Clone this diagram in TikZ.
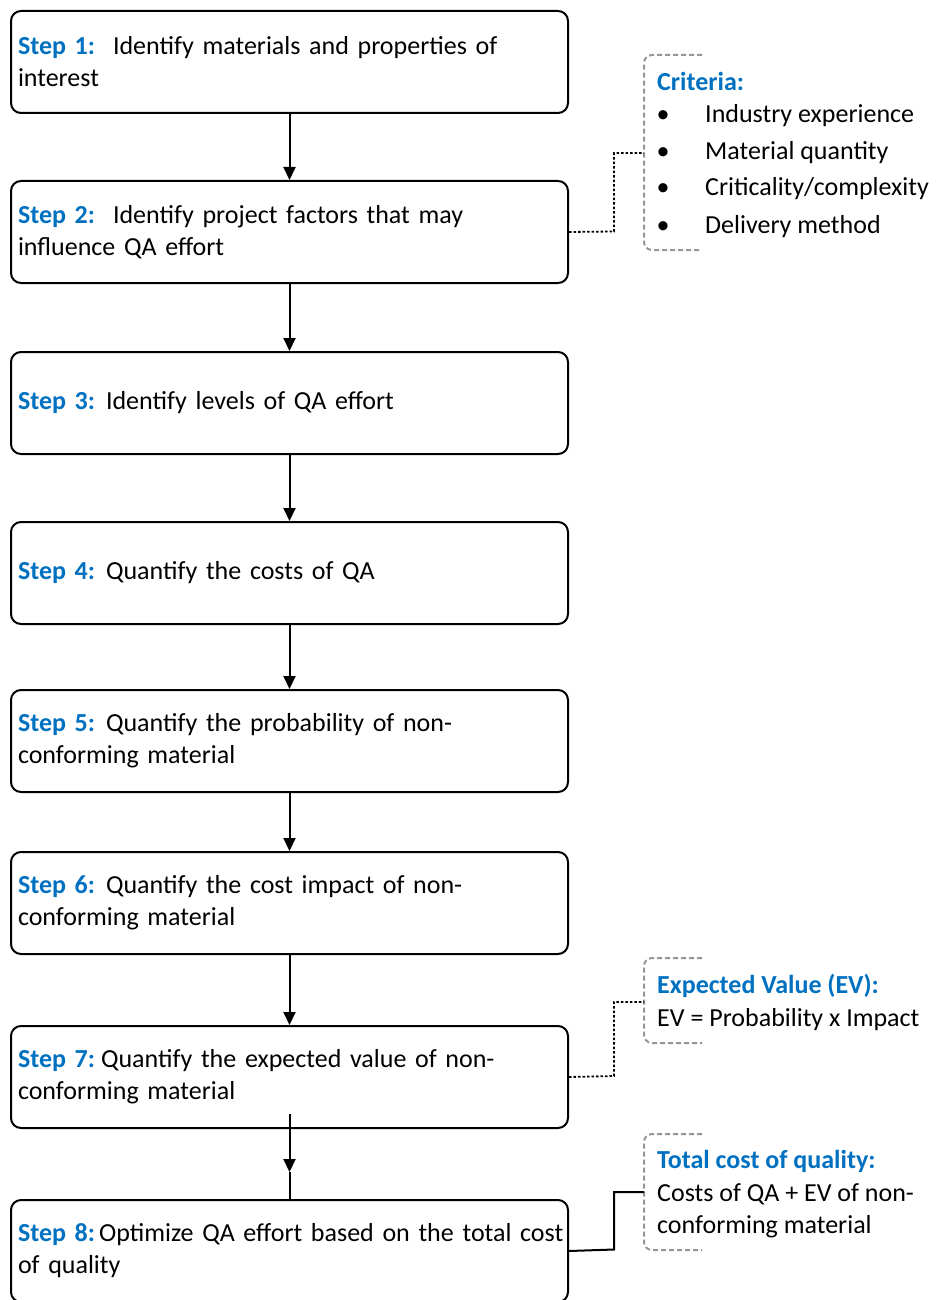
\documentclass[tikz,border=0pt]{standalone}
\usepackage{fontspec}
\setmainfont{Carlito}
\usetikzlibrary{arrows.meta}
\definecolor{stepblue}{RGB}{0,112,192}
\definecolor{bracketgray}{RGB}{150,150,150}

\tikzset{
  stepbox/.style={draw, line width=2pt, rounded corners=10pt,
    minimum width=557pt, minimum height=102pt, anchor=north west,
    inner xsep=7pt, inner ysep=0pt, text width=543pt, align=left,
    font=\fontsize{26}{32}\selectfont},
  flow/.style={line width=2pt, -{Triangle[length=13pt,width=12pt]}},
  plainlink/.style={line width=2pt},
  dotlink/.style={line width=1.8pt, dash pattern=on 2.5pt off 2pt},
  bracket/.style={draw=bracketgray, line width=2pt,
    dash pattern=on 5pt off 3pt, rounded corners=8pt},
  note/.style={anchor=base west, inner sep=0pt,
    font=\fontsize{26}{32}\selectfont},
  dot/.style={anchor=base, inner sep=0pt,
    font=\fontsize{26}{32}\selectfont},
}
\newcommand{\steplabel}[1]{\textcolor{stepblue}{\textbf{Step #1:}}}

\begin{document}
\begin{tikzpicture}[x=1pt, y=-1pt]
\useasboundingbox (0,0) rectangle (937,1300);

% process steps
\node[stepbox] (s1) at (10,10)   {\steplabel{1}\hspace{5pt} Identify materials and properties of\\interest};
\node[stepbox] (s2) at (10,180)  {\steplabel{2}\hspace{5pt} Identify project factors that may\\influence QA effort};
\node[stepbox] (s3) at (10,351)  {\steplabel{3}\hspace{-2pt} Identify levels of QA effort};
\node[stepbox] (s4) at (10,521)  {\steplabel{4}\hspace{-2pt} Quantify the costs of QA};
\node[stepbox] (s5) at (10,689)  {\steplabel{5}\hspace{-2pt} Quantify the probability of non-\\conforming material};
\node[stepbox] (s6) at (10,851)  {\steplabel{6}\hspace{-2pt} Quantify the cost impact of non-\\conforming material};
\node[stepbox] (s7) at (10,1025) {\steplabel{7}\hspace{-7pt} Quantify the expected value of non-\\conforming material};
\node[stepbox] (s8) at (10,1199) {\makebox[\linewidth][l]{\steplabel{8}\hspace{-9pt} Optimize QA effort based on the total cost}\\of quality};

% flow arrows
\draw[flow] (s1.south) -- (s2.north);
\draw[flow] (s2.south) -- (s3.north);
\draw[flow] (s3.south) -- (s4.north);
\draw[flow] (s4.south) -- (s5.north);
\draw[flow] (s5.south) -- (s6.north);
\draw[flow] (s6.south) -- (s7.north);
\coordinate (t7) at ([yshift=15pt]s7.south);
\coordinate (m7) at ([yshift=-43pt]s7.south);
\draw[flow] (t7) -- (m7);
\draw[plainlink] (m7) -- (m7 |- s8.north);

% criteria note
\draw[bracket] (702,55) -- (644,55) -- (644,250) -- (702,250);
\coordinate (critlink) at (644,153);
\node[note, text=stepblue] (crit) at (657,91) {\bfseries Criteria:};
\node[dot] (b1) at (663,123) {•};
\node[dot] (b2) at (663,160) {•};
\node[dot] (b3) at (663,196) {•};
\node[dot] (b4) at (663,233) {•};
\node[note] (i1) at (705,123) {Industry experience};
\node[note] (i2) at (705,160) {Material quantity};
\node[note] (i3) at (705,196) {Criticality/complexity};
\node[note] (i4) at (705,233) {Delivery method};
\draw[dotlink] (s2.east) -- (614,231.5) |- (critlink);

% expected value note
\draw[bracket] (702,958) -- (644,958) -- (644,1043) -- (702,1043);
\coordinate (evlink) at (644,1002);
\node[note, text=stepblue] (ev) at (657,993) {\bfseries Expected Value (EV):};
\node[note] (evf) at (657,1026) {EV = Probability x Impact};
\draw[dotlink] (s7.east) -- (614,1076) |- (evlink);

% total cost note
\draw[bracket] (702,1134) -- (644,1134) -- (644,1250) -- (702,1250);
\coordinate (tclink) at (644,1192);
\node[note, text=stepblue] (tc) at (657,1168) {\bfseries Total cost of quality:};
\node[note] (tc1) at (657,1201) {Costs of QA + EV of non-};
\node[note] (tc2) at (657,1233) {conforming material};
\draw[plainlink] (s8.east) -- (614,1249.5) |- (tclink);
\end{tikzpicture}
\end{document}
